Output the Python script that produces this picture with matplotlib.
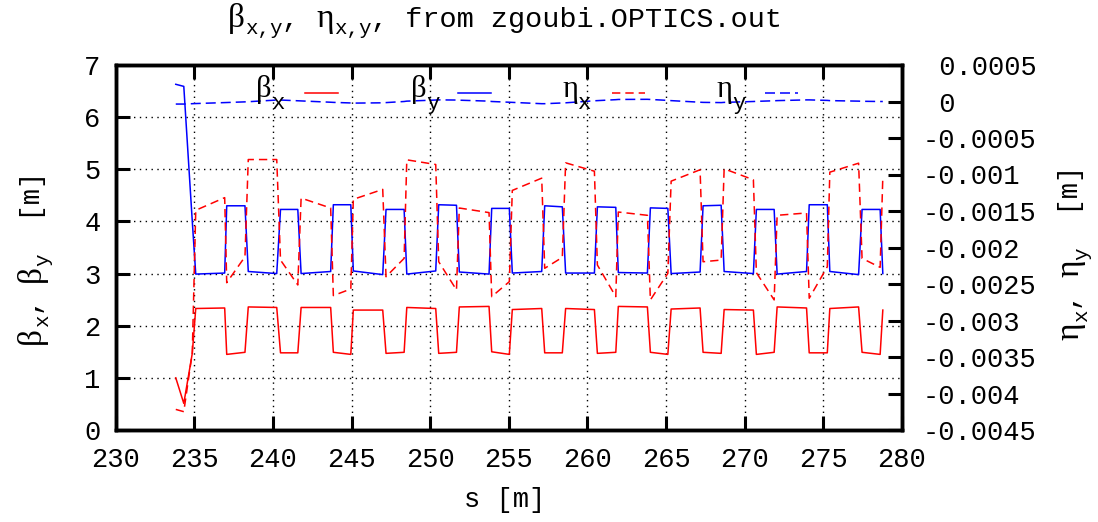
import numpy as np
import matplotlib
matplotlib.use("Agg")
import matplotlib.pyplot as plt
from matplotlib.lines import Line2D
from matplotlib.ticker import FixedLocator, FixedFormatter

# Optical functions along the line (zgoubi.OPTICS.out)
s = [233.82, 234.33, 234.87, 235.09, 236.93, 237.06, 238.22, 238.43, 240.24, 240.48,
     241.58, 241.79, 243.67, 243.84, 244.95, 245.11, 246.98, 247.19, 248.34, 248.51,
     250.35, 250.54, 251.67, 251.85, 253.74, 253.91, 255.03, 255.22, 257.09, 257.28,
     258.40, 258.61, 260.44, 260.63, 261.80, 261.96, 263.81, 264.00, 265.11, 265.32,
     267.16, 267.35, 268.50, 268.69, 270.55, 270.74, 271.87, 272.06, 273.93, 274.10,
     275.25, 275.41, 277.24, 277.46, 278.61, 278.78]

beta_x = [1.00, 0.51, 1.47, 2.33, 2.34, 1.45, 1.49, 2.36, 2.35, 1.48,
          1.48, 2.35, 2.35, 1.49, 1.45, 2.30, 2.30, 1.47, 1.49, 2.35,
          2.33, 1.47, 1.49, 2.36, 2.37, 1.50, 1.45, 2.31, 2.33, 1.48,
          1.48, 2.33, 2.31, 1.47, 1.49, 2.37, 2.36, 1.49, 1.45, 2.32,
          2.34, 1.49, 1.47, 2.31, 2.30, 1.45, 1.49, 2.36, 2.34, 1.48,
          1.48, 2.33, 2.36, 1.49, 1.45, 2.30]

beta_y = [6.63, 6.59, 4.00, 2.99, 3.01, 4.30, 4.30, 3.04, 3.00, 4.23,
          4.23, 3.00, 3.04, 4.32, 4.32, 3.05, 2.98, 4.23, 4.23, 2.99,
          3.05, 4.32, 4.31, 3.03, 2.99, 4.25, 4.25, 3.01, 3.04, 4.30,
          4.28, 3.01, 3.01, 4.28, 4.27, 3.02, 3.01, 4.26, 4.25, 3.00,
          3.03, 4.30, 4.31, 3.04, 3.00, 4.23, 4.23, 2.99, 3.04, 4.32,
          4.32, 3.04, 2.98, 4.23, 4.23, 3.00]

# dispersion values given in mm, converted to m below
eta_x_mm = [-4.218, -4.249, -3.440, -1.490, -1.317, -2.482, -2.127, -0.795, -0.795, -2.172,
            -2.513, -1.323, -1.459, -2.659, -2.568, -1.340, -1.204, -2.400, -2.149, -0.799,
            -0.863, -2.195, -2.581, -1.459, -1.522, -2.673, -2.468, -1.218, -1.050, -2.285,
            -2.135, -0.840, -0.955, -2.240, -2.673, -1.514, -1.559, -2.718, -2.354, -1.091,
            -0.935, -2.195, -2.172, -0.922, -1.072, -2.345, -2.718, -1.559, -1.527, -2.695,
            -2.264, -0.968, -0.845, -2.149, -2.272, -1.036]

eta_y_mm = [-0.035, -0.035, -0.030, -0.028, -0.015, -0.014, -0.005, -0.003, 0.020, 0.020,
            0.010, 0.008, -0.010, -0.012, -0.020, -0.022, -0.018, -0.015, 0.000, 0.005,
            0.020, 0.022, 0.020, 0.018, 0.005, 0.000, -0.010, -0.012, -0.030, -0.030,
            -0.020, -0.018, 0.010, 0.012, 0.025, 0.028, 0.030, 0.028, 0.015, 0.012,
            -0.010, -0.012, -0.015, -0.012, 0.000, 0.002, 0.010, 0.012, 0.022, 0.022,
            0.015, 0.012, 0.005, 0.003, 0.000, 0.000]

eta_x = np.array(eta_x_mm) * 1e-3
eta_y = np.array(eta_y_mm) * 1e-3

x_ticks = [230, 235, 240, 245, 250, 255, 260, 265, 270, 275, 280]
y_ticks = [0, 1, 2, 3, 4, 5, 6, 7]
y2_ticks = [0.0005, 0.0, -0.0005, -0.001, -0.0015, -0.002, -0.0025,
            -0.003, -0.0035, -0.004, -0.0045]
y2_labels = ["% g" % v for v in y2_ticks]

MONO = "Liberation Mono"
SERIF = "Liberation Serif"
plt.rcParams.update({
    "font.family": MONO,
    "axes.unicode_minus": False,
    "lines.scale_dashes": False,
})

W, H = 1098, 522
fig = plt.figure(figsize=(W / 100, H / 100), dpi=100)
L, R, T, B = 115.7, 902.0, 65.0, 430.0
ax = fig.add_axes([L / W, 1 - B / H, (R - L) / W, (B - T) / H])
ax2 = ax.twinx()

RED, BLUE = "#ff0000", "#0000ff"
LW = 1.1
ETA_X_DASH = (6.0, 3.6)
ETA_Y_DASH = (7.2, 3.6)

ax.plot(s, beta_x, color=RED, lw=LW, zorder=3)
ax.plot(s, beta_y, color=BLUE, lw=LW, zorder=3)
ax2.plot(s, eta_x, color=RED, lw=LW, dashes=ETA_X_DASH)
ax2.plot(s, eta_y, color=BLUE, lw=LW, dashes=ETA_Y_DASH)

ax.set_xlim(230, 280)
ax.set_ylim(0, 7)
ax2.set_ylim(-0.0045, 0.0005)

ax.xaxis.set_major_locator(FixedLocator(x_ticks))
ax.yaxis.set_major_locator(FixedLocator(y_ticks))
ax2.yaxis.set_major_locator(FixedLocator(y2_ticks))
ax2.yaxis.set_major_formatter(FixedFormatter(y2_labels))

ax.grid(True, color="black", linestyle=(0, (1, 3.2)), linewidth=1.0)

for a in (ax, ax2):
    for sp in a.spines.values():
        sp.set_linewidth(2.5)
ax.tick_params(axis="x", direction="in", length=10, width=2.2, top=True,
               labelsize=19.5, pad=12)
ax.tick_params(axis="y", direction="in", length=10, width=2.2, right=False,
               labelsize=19.5, pad=11)
ax2.tick_params(axis="y", direction="in", length=10, width=2.2,
                labelsize=19.5, pad=15)
for lab in ax2.get_yticklabels():
    lab.set_horizontalalignment("left")

renderer = fig.canvas.get_renderer()


def rich_text(x, y, pieces, rotation=0, align="center"):
    """Lay out (text, family, size, drop_px) pieces on a common baseline.

    x, y are pixel positions (origin top-left); drop_px lowers a piece
    below the baseline (subscripts)."""
    widths = []
    for txt, fam, size, _ in pieces:
        t = fig.text(0, 0, txt, family=fam, fontsize=size)
        widths.append(t.get_window_extent(renderer).width)
        t.remove()
    total = sum(widths)
    pos = -total / 2 if align == "center" else 0.0
    for (txt, fam, size, drop), w in zip(pieces, widths):
        if rotation == 0:
            px, py = x + pos, y + drop
        else:
            px, py = x + drop, y - pos
        fig.text(px / W, 1 - py / H, txt, family=fam, fontsize=size,
                 rotation=rotation, rotation_mode="anchor",
                 ha="left", va="baseline")
        pos += w


# title and axis labels
rich_text(505, 27, [("\u03b2", SERIF, 24, 0), ("x,y", MONO, 15, 7),
                    (", ", MONO, 20.5, 0), ("\u03b7", SERIF, 24, 0),
                    ("x,y", MONO, 15, 7), (", from zgoubi.OPTICS.out", MONO, 20.5, 0)])
fig.text(505 / W, 1 - 500 / H, "s [m]", ha="center", va="center", fontsize=19.5)
rich_text(40, 258, [("\u03b2", SERIF, 24, 0), ("x", MONO, 15, 8),
                    (", ", MONO, 19.5, 0), ("\u03b2", SERIF, 24, 0),
                    ("y", MONO, 15, 8), ("  [m]", MONO, 19.5, 0)], rotation=90)
rich_text(1078, 253, [("\u03b7", SERIF, 24, 0), ("x", MONO, 15, 9),
                      (", ", MONO, 19.5, 0), ("\u03b7", SERIF, 24, 0),
                      ("y", MONO, 15, 9), ("  [m]", MONO, 19.5, 0)], rotation=90)

# key: symbol with subscript, then a line sample
key = [
    ("\u03b2", "x", 256, 305, RED, None),
    ("\u03b2", "y", 411, 458, BLUE, None),
    ("\u03b7", "x", 562, 612, RED, ETA_X_DASH),
    ("\u03b7", "y", 716, 765, BLUE, ETA_Y_DASH),
]
for greek, sub, gx, lx, col, dash in key:
    rich_text(gx, 97, [(greek, SERIF, 22, 0), (sub, MONO, 16, 12)], align="left")
    ln = Line2D([lx / W, (lx + 33) / W], [1 - 93.3 / H] * 2, color=col, lw=LW,
                transform=fig.transFigure)
    if dash is not None:
        ln.set_dashes(dash)
    fig.add_artist(ln)

fig.savefig("out.png", dpi=100)
